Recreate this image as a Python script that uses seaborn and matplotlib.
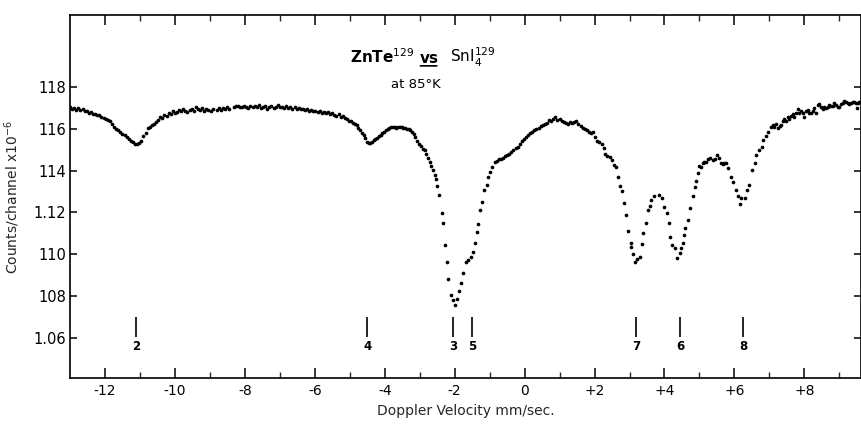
import numpy as np
import pandas as pd
import matplotlib
matplotlib.use("Agg")
import matplotlib.pyplot as plt
import seaborn as sns
from matplotlib.ticker import FixedLocator

# ---------------- data ----------------
# velocity in mm/sec, counts in units of the y tick labels (x10^-2 x10^6)
vel_left = [-13.00, -12.94, -12.88, -12.82, -12.76, -12.70, -12.64, -12.58, -12.52, -12.46,
            -12.40, -12.34, -12.28, -12.22, -12.16, -12.10, -12.04, -11.98, -11.92, -11.86,
            -11.80, -11.74, -11.68, -11.62, -11.56, -11.50, -11.44, -11.38, -11.32, -11.26,
            -11.20, -11.14, -11.08, -11.02, -10.96, -10.90, -10.84, -10.78, -10.72, -10.66,
            -10.60, -10.54, -10.48, -10.42, -10.36, -10.30, -10.24, -10.18, -10.12, -10.06,
            -10.00, -9.94, -9.88, -9.82, -9.76, -9.70, -9.64, -9.58, -9.52, -9.46,
            -9.40, -9.34, -9.28, -9.22, -9.16, -9.10]
cnt_left = [117.05, 116.95, 117.00, 116.90, 117.02, 116.92, 116.95, 116.85, 116.88, 116.78,
            116.80, 116.72, 116.70, 116.66, 116.68, 116.58, 116.55, 116.50, 116.45, 116.40,
            116.22, 116.12, 116.02, 115.95, 115.88, 115.78, 115.70, 115.60, 115.52, 115.42,
            115.38, 115.30, 115.28, 115.35, 115.45, 115.65, 115.82, 116.05, 116.10, 116.20,
            116.22, 116.32, 116.45, 116.60, 116.55, 116.68, 116.62, 116.78, 116.72, 116.85,
            116.78, 116.80, 116.92, 116.85, 116.95, 116.88, 116.82, 116.92, 116.98, 116.85,
            117.05, 116.95, 116.90, 117.00, 116.88, 116.95]

vel_plateau = [-9.04, -8.98, -8.92, -8.80, -8.74, -8.68, -8.62, -8.56, -8.50, -8.44,
               -8.32, -8.26, -8.20, -8.14, -8.08, -8.02, -7.96, -7.90, -7.84, -7.78,
               -7.72, -7.66, -7.60, -7.54, -7.48, -7.42, -7.36, -7.30, -7.24, -7.18,
               -7.12, -7.06, -7.00, -6.94, -6.88, -6.82, -6.76, -6.70, -6.64, -6.58,
               -6.52, -6.46, -6.40, -6.34, -6.28, -6.22, -6.16, -6.10, -6.04, -5.98,
               -5.92, -5.86, -5.80, -5.74, -5.68, -5.62, -5.56, -5.50, -5.44, -5.38,
               -5.32, -5.26, -5.20, -5.14, -5.08, -5.02]
cnt_plateau = [116.92, 116.85, 116.95, 116.90, 117.02, 116.92, 117.00, 116.95, 117.05, 116.98,
               117.05, 117.12, 117.10, 117.05, 117.08, 117.12, 117.05, 117.00, 117.10, 117.06,
               117.12, 117.05, 117.15, 117.02, 117.08, 117.12, 116.98, 117.05, 117.10, 117.02,
               117.08, 117.15, 117.04, 117.08, 117.00, 117.10, 117.02, 117.06, 116.98, 117.04,
               116.96, 117.00, 116.94, 116.98, 116.90, 116.95, 116.88, 116.92, 116.85, 116.88,
               116.82, 116.86, 116.78, 116.84, 116.76, 116.80, 116.72, 116.75, 116.68, 116.64,
               116.70, 116.60, 116.64, 116.52, 116.48, 116.40]

vel_centre = [-4.96, -4.90, -4.85, -4.80, -4.75, -4.70, -4.65, -4.60, -4.55, -4.50,
              -4.46, -4.42, -4.37, -4.32, -4.27, -4.22, -4.17, -4.12, -4.07, -4.02,
              -3.97, -3.92, -3.87, -3.82, -3.77, -3.72, -3.67, -3.62, -3.57, -3.52,
              -3.47, -3.42, -3.37, -3.32, -3.27, -3.22, -3.17, -3.12, -3.07, -3.02,
              -2.97, -2.91, -2.86, -2.81, -2.76, -2.71, -2.67, -2.62, -2.57, -2.53,
              -2.50, -2.45, -2.36, -2.32, -2.27, -2.23, -2.18, -2.10, -2.04, -1.98,
              -1.92, -1.88, -1.82, -1.76, -1.68, -1.61, -1.54, -1.48, -1.43, -1.37,
              -1.33, -1.27, -1.22, -1.17, -1.08, -1.05, -1.00, -0.93, -0.86]
cnt_centre = [116.38, 116.30, 116.25, 116.18, 116.05, 115.95, 115.82, 115.70, 115.55, 115.40,
              115.32, 115.34, 115.40, 115.46, 115.52, 115.58, 115.66, 115.72, 115.80, 115.86,
              115.95, 116.00, 116.06, 116.10, 116.08, 116.12, 116.06, 116.10, 116.08, 116.12,
              116.05, 116.06, 116.02, 115.98, 115.94, 115.86, 115.78, 115.62, 115.45, 115.30,
              115.18, 115.05, 114.99, 114.80, 114.59, 114.40, 114.23, 114.05, 113.82, 113.60,
              113.25, 112.83, 111.96, 111.48, 110.44, 109.64, 108.80, 108.04, 107.78, 107.56,
              107.84, 108.22, 108.60, 109.11, 109.62, 109.72, 109.88, 110.12, 110.52, 111.05,
              111.43, 112.12, 112.48, 113.07, 113.31, 113.68, 113.95, 114.19, 114.43]

vel_hump = [-0.80, -0.74, -0.68, -0.62, -0.56, -0.50, -0.44, -0.38, -0.32, -0.26,
            -0.20, -0.14, -0.08, -0.02, 0.04, 0.10, 0.16, 0.22, 0.28, 0.34,
            0.40, 0.46, 0.52, 0.58, 0.64, 0.70, 0.76, 0.82, 0.88, 0.94,
            1.00, 1.06, 1.12, 1.18, 1.24, 1.30, 1.36, 1.42, 1.48, 1.54,
            1.60, 1.66, 1.72, 1.78, 1.84, 1.90, 1.96, 2.02, 2.08, 2.14,
            2.20, 2.26, 2.30, 2.36, 2.43, 2.50, 2.56, 2.62, 2.67, 2.74, 2.78]
cnt_hump = [114.47, 114.55, 114.58, 114.62, 114.70, 114.76, 114.80, 114.92, 114.98, 115.08,
            115.15, 115.30, 115.42, 115.52, 115.60, 115.70, 115.82, 115.88, 115.96, 116.02,
            116.06, 116.14, 116.18, 116.25, 116.30, 116.42, 116.38, 116.50, 116.58, 116.45,
            116.50, 116.40, 116.36, 116.30, 116.26, 116.32, 116.28, 116.36, 116.40, 116.24,
            116.14, 116.04, 116.00, 115.96, 115.86, 115.80, 115.88, 115.62, 115.45, 115.38,
            115.30, 115.07, 114.78, 114.70, 114.67, 114.51, 114.28, 114.18, 113.71, 113.27, 113.04]

vel_triplet = [2.83, 2.90, 2.96, 3.03, 3.05, 3.10, 3.17, 3.22, 3.29, 3.35,
               3.40, 3.48, 3.52, 3.59, 3.62, 3.71, 3.84, 3.93, 4.00, 4.07,
               4.12, 4.17, 4.22, 4.29, 4.35, 4.43, 4.48, 4.52, 4.57, 4.60,
               4.67, 4.73, 4.81, 4.86, 4.91, 4.95, 5.00, 5.05, 5.09, 5.14,
               5.19, 5.24, 5.29, 5.38, 5.44, 5.49, 5.55, 5.62, 5.67, 5.71,
               5.76, 5.83, 5.89, 5.95, 6.05, 6.09, 6.17, 6.19, 6.29, 6.35,
               6.41, 6.51, 6.60, 6.62, 6.71, 6.79, 6.81, 6.90]
cnt_triplet = [112.44, 111.88, 111.12, 110.52, 110.33, 109.99, 109.64, 109.77, 109.88, 110.47,
               111.00, 111.48, 112.12, 112.31, 112.60, 112.79, 112.82, 112.71, 112.24, 111.96,
               111.51, 110.84, 110.44, 110.28, 109.83, 110.04, 110.28, 110.55, 110.92, 111.24,
               111.63, 112.23, 112.80, 113.20, 113.52, 113.90, 114.22, 114.19, 114.35, 114.40,
               114.43, 114.55, 114.59, 114.51, 114.55, 114.75, 114.59, 114.38, 114.32, 114.35,
               114.38, 114.11, 113.71, 113.47, 113.07, 112.79, 112.40, 112.68, 112.68, 113.07,
               113.31, 114.03, 114.35, 114.75, 114.99, 115.15, 115.47, 115.66]

vel_right = [6.95, 7.05, 7.10, 7.14, 7.19, 7.24, 7.29, 7.33, 7.38, 7.43,
             7.48, 7.52, 7.57, 7.62, 7.67, 7.71, 7.76, 7.81, 7.86, 7.90,
             7.95, 8.00, 8.05, 8.10, 8.14, 8.19, 8.24, 8.29, 8.33, 8.38,
             8.43, 8.47, 8.52, 8.57, 8.62, 8.67, 8.71, 8.76, 8.81, 8.86,
             8.90, 8.95, 9.00, 9.05, 9.10, 9.14, 9.19, 9.24, 9.29, 9.33,
             9.38, 9.43, 9.48, 9.50, 9.53, 9.57]
cnt_right = [115.87, 116.11, 116.19, 116.12, 116.22, 116.03, 116.16, 116.19, 116.40, 116.47,
             116.40, 116.56, 116.50, 116.62, 116.70, 116.56, 116.75, 116.95, 116.78, 116.85,
             116.78, 116.59, 116.85, 116.91, 116.75, 116.78, 116.88, 116.99, 116.75, 117.15,
             117.20, 117.05, 116.95, 117.08, 116.99, 117.05, 117.15, 117.12, 117.10, 117.23,
             117.15, 117.07, 117.07, 117.18, 117.26, 117.36, 117.28, 117.23, 117.20, 117.26,
             117.31, 117.28, 117.23, 116.99, 117.25, 117.31]

line_labels = ["2", "4", "3", "5", "7", "6", "8"]
line_positions = [-11.1, -4.5, -2.05, -1.5, 3.2, 4.45, 6.25]

x_ticks = [-12, -10, -8, -6, -4, -2, 0, 2, 4, 6, 8]
x_tick_labels = ["-12", "-10", "-8", "-6", "-4", "-2", "0", "+2", "+4", "+6", "+8"]
x_minor = [-11, -9, -7, -5, -3, -1, 1, 3, 5, 7, 9]
y_ticks = [106, 108, 110, 112, 114, 116, 118]
y_tick_labels = ["1.06", "108", "110", "1.12", "114", "116", "118"]

df = pd.DataFrame({
    "velocity": vel_left + vel_plateau + vel_centre + vel_hump + vel_triplet + vel_right,
    "counts": cnt_left + cnt_plateau + cnt_centre + cnt_hump + cnt_triplet + cnt_right,
})

# ---------------- figure ----------------
sns.set_theme(style="ticks")
plt.rcParams["font.family"] = ["DejaVu Sans"]

W, H = 862, 426
fig = plt.figure(figsize=(W / 100, H / 100), dpi=100)
ax = fig.add_axes([70 / W, 48 / H, 791 / W, 363 / H])

sns.scatterplot(data=df, x="velocity", y="counts", color="black", s=7,
                linewidth=0, legend=False, ax=ax)

ax.set_xlim(-13.0, 9.62)
ax.set_ylim(104.06, 121.47)

ax.xaxis.set_major_locator(FixedLocator(x_ticks))
ax.set_xticklabels(x_tick_labels)
ax.xaxis.set_minor_locator(FixedLocator(x_minor))
ax.yaxis.set_major_locator(FixedLocator(y_ticks))
ax.set_yticklabels(y_tick_labels)

ax.tick_params(axis="x", which="major", direction="in", length=7, width=1.1,
               top=True, bottom=True, labelsize=10, pad=4, colors="black")
ax.tick_params(axis="x", which="minor", direction="in", length=4.5, width=1.0,
               top=True, bottom=True)
ax.tick_params(axis="y", which="major", direction="in", length=5, width=1.1,
               left=True, right=True, labelsize=10.5, pad=3, colors="black")
for sp in ax.spines.values():
    sp.set_linewidth(1.2)
    sp.set_color("black")

ax.set_xlabel("Doppler Velocity mm/sec.", fontsize=10, labelpad=5)
ax.set_ylabel(r"Counts/channel x10$^{-6}$", fontsize=10, labelpad=8)

# peak position markers
ax.vlines(line_positions, 106.05, 107.0, color="black", linewidth=1.2)
for pos, lab in zip(line_positions, line_labels):
    ax.text(pos, 105.55, lab, ha="center", va="center", fontsize=8.5,
            fontweight="bold", color="black")

# title inside plot
ax.text(-3.17, 119.17, r"ZnTe$^{129}$", ha="right", va="baseline",
        fontsize=11, fontweight="bold", color="black")
ax.text(-2.74, 119.17, "vs", ha="center", va="baseline",
        fontsize=11, fontweight="bold", color="black")
ax.annotate("", xy=(-2.43, 119.03), xytext=(-3.06, 119.03),
            arrowprops=dict(arrowstyle="-", lw=1.2, color="black"))
ax.text(-2.12, 119.17, r"SnI$_4^{129}$", ha="left", va="baseline",
        fontsize=11, color="black")
ax.text(-3.11, 117.97, "at 85°K", ha="center", va="baseline",
        fontsize=9.5, color="black")

fig.savefig("out.png", dpi=100)
